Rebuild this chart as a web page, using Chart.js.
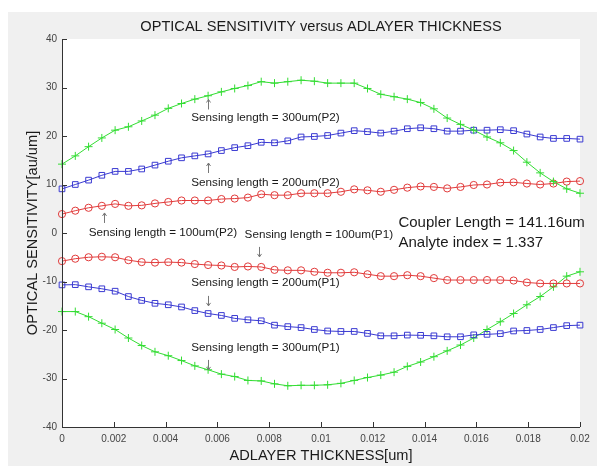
<!DOCTYPE html>
<html>
<head>
<meta charset="utf-8">
<title>Optical sensitivity</title>
<script src="https://cdn.jsdelivr.net/npm/chart.js@4.4.1/dist/chart.umd.min.js"></script>
<style>
    html, body { margin: 0; padding: 0; background: #ffffff; }
    #wrap { width: 597px; height: 466px; }
</style>
</head>
<body>
<div id="wrap"><canvas id="sensitivityChart" width="597" height="466"></canvas></div>
<script>
// ========================
// Données
// ========================

// Épaisseur de la couche (linspace 0 -> 0.02, 40 points)
const thickness = [
    0, 0.000513, 0.001026, 0.001538, 0.002051, 0.002564, 0.003077, 0.003590, 0.004103, 0.004615,
    0.005128, 0.005641, 0.006154, 0.006667, 0.007179, 0.007692, 0.008205, 0.008718, 0.009231, 0.009744,
    0.010256, 0.010769, 0.011282, 0.011795, 0.012308, 0.012821, 0.013333, 0.013846, 0.014359, 0.014872,
    0.015385, 0.015897, 0.016410, 0.016923, 0.017436, 0.017949, 0.018462, 0.018974, 0.019487, 0.020000
];

const sens300P2 = [
    14.2, 15.9, 17.8, 19.6, 21.2, 21.9, 23.1, 24.3, 25.7, 26.7,
    27.6, 28.3, 29.1, 29.8, 30.4, 31.2, 30.9, 31.2, 31.5, 31.3,
    30.9, 30.9, 30.9, 29.8, 28.6, 28.1, 27.6, 26.9, 25.6, 23.7,
    22.4, 21.2, 19.8, 18.6, 17.0, 14.6, 12.4, 10.6, 9.1, 8.2
];

const sens200P2 = [
    9.1, 10.0, 10.9, 11.9, 12.7, 12.7, 13.2, 14.0, 14.8, 15.5,
    15.9, 16.3, 17.0, 17.6, 18.0, 18.7, 18.6, 19.0, 19.8, 19.9,
    20.1, 20.6, 21.1, 20.9, 20.6, 21.0, 21.5, 21.7, 21.5, 21.0,
    21.0, 21.2, 21.2, 21.3, 21.1, 20.4, 19.8, 19.5, 19.5, 19.35
];

const sens100P2 = [
    3.9, 4.6, 5.2, 5.6, 6.0, 5.6, 5.7, 6.1, 6.4, 6.7,
    6.7, 6.7, 7.0, 7.1, 7.3, 8.0, 7.8, 7.8, 8.2, 8.2,
    8.2, 8.5, 9.0, 8.8, 8.5, 8.9, 9.35, 9.6, 9.5, 9.2,
    9.5, 9.9, 10.0, 10.4, 10.45, 10.2, 10.0, 10.2, 10.6, 10.7
];

const sens100P1 = [
    -5.8, -5.3, -5.0, -4.9, -5.0, -5.6, -6.0, -6.1, -6.0, -6.1,
    -6.4, -6.6, -6.7, -7.0, -6.9, -7.0, -7.6, -7.7, -7.7, -8.0,
    -8.2, -8.2, -8.1, -8.5, -8.9, -8.9, -8.7, -8.9, -9.3, -9.7,
    -9.7, -9.7, -9.7, -9.7, -9.8, -10.2, -10.4, -10.4, -10.4, -10.4
];

const sens200P1 = [
    -10.7, -10.65, -11.1, -11.5, -12.0, -13.1, -13.9, -14.5, -14.8, -15.25,
    -16.0, -16.6, -17.0, -17.6, -17.9, -18.1, -19.0, -19.3, -19.5, -19.9,
    -20.2, -20.3, -20.3, -20.7, -21.2, -21.2, -21.05, -21.1, -21.2, -21.4,
    -21.4, -21.0, -20.9, -20.75, -20.2, -20.1, -19.9, -19.5, -19.1, -19.0
];

const sens300P1 = [
    -16.2, -16.2, -17.25, -18.6, -19.9, -21.65, -23.2, -24.5, -25.3, -26.3,
    -27.4, -28.2, -29.1, -29.6, -30.4, -30.5, -31.1, -31.5, -31.4, -31.4,
    -31.3, -31.0, -30.4, -29.8, -29.3, -28.7, -27.5, -26.6, -25.5, -24.3,
    -23.1, -21.65, -19.9, -18.3, -16.6, -14.8, -13.1, -11.1, -8.9, -8.0
];

const xTicks = [0, 0.002, 0.004, 0.006, 0.008, 0.01, 0.012, 0.014, 0.016, 0.018, 0.02];
const yTicks = [-40, -30, -20, -10, 0, 10, 20, 30, 40];

// Textes placés en coordonnées de données
const notes = [
    { text: 'Sensing length = 300um(P2)', x: 0.00499, y: 23.7 },
    { text: 'Sensing length = 200um(P2)', x: 0.00499, y: 10.3 },
    { text: 'Sensing length = 100um(P2)', x: 0.00103, y: 0.1 },
    { text: 'Sensing length = 100um(P1)', x: 0.00705, y: -0.4 },
    { text: 'Sensing length = 200um(P1)', x: 0.00499, y: -10.3 },
    { text: 'Sensing length = 300um(P1)', x: 0.00499, y: -23.7 }
];
const bigNotes = [
    { text: 'Coupler Length = 141.16um', x: 0.01299, y: 2.06 },
    { text: 'Analyte index = 1.337', x: 0.01299, y: -2.06 }
];
const arrows = [
    { dir: 'up', x: 0.00562, y: 26.5 },
    { dir: 'up', x: 0.00562, y: 13.4 },
    { dir: 'up', x: 0.00163, y: 3.1 },
    { dir: 'down', x: 0.00762, y: -3.9 },
    { dir: 'down', x: 0.00562, y: -14.0 },
    { dir: 'down', x: 0.00562, y: -27.2 }
];

const FONT = "'Liberation Sans', Arial, Helvetica, sans-serif";

// ========================
// Construction du graphique
// ========================

function makeDataset(label, values, color, pointStyle, radius) {
    return {
        label: label,
        data: values.map((v, i) => ({ x: thickness[i], y: v })),
        borderColor: color,
        backgroundColor: 'rgba(0,0,0,0)',
        borderWidth: 1,
        pointStyle: pointStyle,
        pointRadius: radius,
        pointBorderColor: color,
        pointBackgroundColor: 'rgba(0,0,0,0)',
        pointBorderWidth: 1,
        tension: 0,
        clip: false
    };
}

// Décor façon MATLAB : fond gris, ticks intérieurs, titres, annotations
const matlabDecor = {
    id: 'matlabDecor',
    beforeDraw(chart) {
        const c = chart.ctx;
        const a = chart.chartArea;
        c.save();
        c.fillStyle = '#ffffff';
        c.fillRect(0, 0, chart.width, chart.height);
        c.fillStyle = '#f0f0f0';
        c.fillRect(8, 12, chart.width - 8, chart.height - 12);
        c.fillStyle = '#ffffff';
        c.fillRect(a.left, a.top, a.right - a.left, a.bottom - a.top);
        c.restore();
    },
    afterDraw(chart) {
        const c = chart.ctx;
        const a = chart.chartArea;
        const xs = chart.scales.x;
        const ys = chart.scales.y;
        c.save();

        // axes + ticks
        c.strokeStyle = '#333333';
        c.lineWidth = 1;
        c.beginPath();
        c.moveTo(a.left + 0.5, a.top);
        c.lineTo(a.left + 0.5, a.bottom + 0.5);
        c.lineTo(a.right, a.bottom + 0.5);
        xTicks.forEach(v => {
            const px = Math.round(xs.getPixelForValue(v)) + 0.5;
            c.moveTo(px, a.bottom);
            c.lineTo(px, a.bottom - 5);
        });
        yTicks.forEach(v => {
            const py = Math.round(ys.getPixelForValue(v)) + 0.5;
            c.moveTo(a.left, py);
            c.lineTo(a.left + 5, py);
        });
        c.stroke();

        // titre et libellés des axes
        c.fillStyle = '#1a1a1a';
        c.textAlign = 'center';
        c.textBaseline = 'middle';
        c.font = '14.6px ' + FONT;
        c.fillText('OPTICAL SENSITIVITY versus ADLAYER THICKNESS', (a.left + a.right) / 2, 27);
        c.fillText('ADLAYER THICKNESS[um]', (a.left + a.right) / 2, 456);
        c.save();
        c.translate(33, (a.top + a.bottom) / 2);
        c.rotate(-Math.PI / 2);
        c.fillText('OPTICAL SENSITIVITY[au/um]', 0, 0);
        c.restore();

        // annotations
        c.textAlign = 'left';
        c.font = '11.7px ' + FONT;
        notes.forEach(n => {
            c.fillText(n.text, xs.getPixelForValue(n.x), ys.getPixelForValue(n.y));
        });
        c.font = '15px ' + FONT;
        bigNotes.forEach(n => {
            c.fillText(n.text, xs.getPixelForValue(n.x), ys.getPixelForValue(n.y));
        });

        // flèches
        c.strokeStyle = '#777777';
        arrows.forEach(ar => {
            const px = Math.round(xs.getPixelForValue(ar.x)) + 0.5;
            const py = ys.getPixelForValue(ar.y);
            const tip = ar.dir === 'up' ? py - 5 : py + 5;
            const tail = ar.dir === 'up' ? py + 5 : py - 5;
            const s = ar.dir === 'up' ? 3 : -3;
            c.beginPath();
            c.moveTo(px, tail);
            c.lineTo(px, tip);
            c.moveTo(px - 2, tip + s);
            c.lineTo(px, tip);
            c.lineTo(px + 2, tip + s);
            c.stroke();
        });
        c.restore();
    }
};

const ctx = document.getElementById('sensitivityChart');
new Chart(ctx, {
    type: 'line',
    data: {
        datasets: [
            makeDataset('300um(P2)', sens300P2, '#33dd33', 'cross', 4),
            makeDataset('200um(P2)', sens200P2, '#3a3ad2', 'rect', 4),
            makeDataset('100um(P2)', sens100P2, '#e23c3c', 'circle', 3.6),
            makeDataset('100um(P1)', sens100P1, '#e23c3c', 'circle', 3.6),
            makeDataset('200um(P1)', sens200P1, '#3a3ad2', 'rect', 4),
            makeDataset('300um(P1)', sens300P1, '#33dd33', 'cross', 4)
        ]
    },
    options: {
        responsive: false,
        animation: false,
        devicePixelRatio: 1,
        layout: { padding: { left: 0, right: 17, top: 39, bottom: 0 } },
        plugins: {
            legend: { display: false },
            tooltip: { enabled: false }
        },
        scales: {
            x: {
                type: 'linear',
                min: 0,
                max: 0.02,
                afterBuildTicks: scale => { scale.ticks = xTicks.map(v => ({ value: v })); },
                afterFit: scale => { scale.height = 39; },
                grid: { display: false, drawTicks: false },
                border: { display: false },
                ticks: {
                    padding: 6,
                    maxRotation: 0,
                    autoSkip: false,
                    color: '#444444',
                    font: { family: FONT, size: 10 },
                    callback: v => String(v)
                }
            },
            y: {
                type: 'linear',
                min: -40,
                max: 40,
                afterBuildTicks: scale => { scale.ticks = yTicks.map(v => ({ value: v })); },
                afterFit: scale => { scale.width = 62; },
                grid: { display: false, drawTicks: false },
                border: { display: false },
                ticks: {
                    padding: 5,
                    autoSkip: false,
                    color: '#444444',
                    font: { family: FONT, size: 10 },
                    callback: v => String(v)
                }
            }
        }
    },
    plugins: [matlabDecor]
});
</script>
</body>
</html>
